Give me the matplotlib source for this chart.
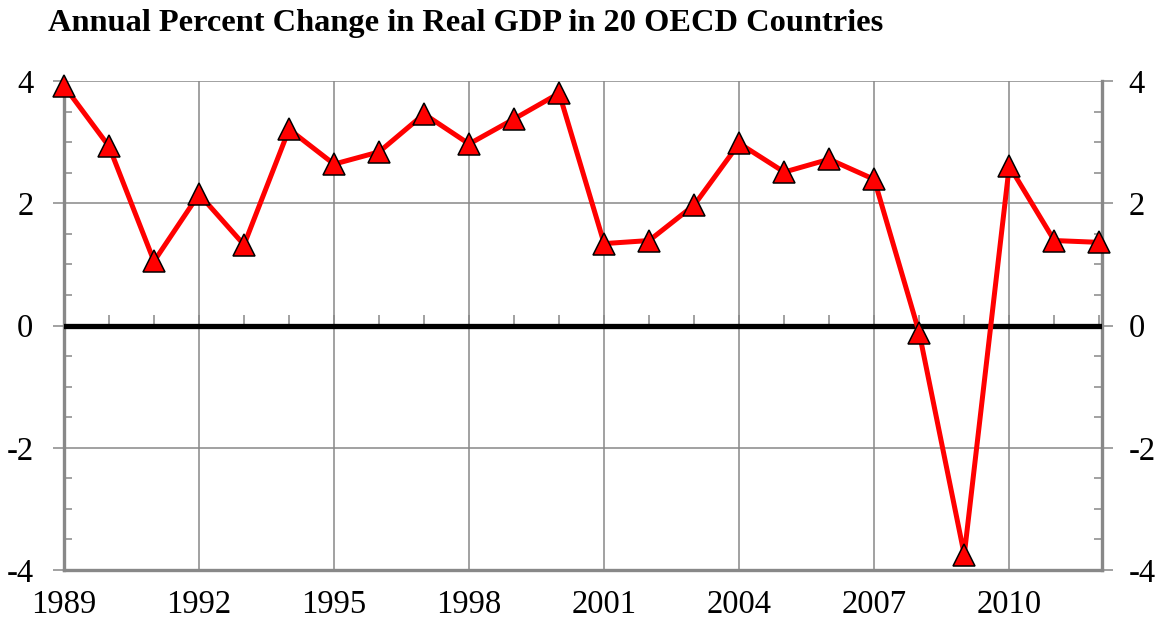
import numpy as np
import matplotlib
matplotlib.use("Agg")
import matplotlib.pyplot as plt
from matplotlib.ticker import MultipleLocator

# data
years = np.arange(1989, 2013)
gdp_change = [3.92, 2.93, 1.05, 2.15, 1.32, 3.21, 2.64, 2.84, 3.46, 2.97,
              3.38, 3.80, 1.34, 1.39, 1.97, 2.98, 2.51, 2.72, 2.39, -0.12,
              -3.75, 2.61, 1.39, 1.36]
year_labels = [1989, 1992, 1995, 1998, 2001, 2004, 2007, 2010]
y_ticks = [-4, -2, 0, 2, 4]
title = "Annual Percent Change in Real GDP in 20 OECD Countries"

grey = "#888888"
font = "Liberation Serif"
plt.rcParams["axes.unicode_minus"] = False

fig = plt.figure(figsize=(11.61, 6.25), dpi=100, facecolor="white")
ax = fig.add_axes([64/1161, 55/625, (1102-64)/1161, (570-81)/625])

ax.set_xlim(1989, 2012.06)
ax.set_ylim(-4, 4)

# grid
ax.set_xticks(year_labels)
ax.set_yticks(y_ticks)
ax.grid(True, color=grey, lw=1.1)
ax.yaxis.set_minor_locator(MultipleLocator(0.5))

for s in ["left", "bottom"]:
    ax.spines[s].set_color(grey)
    ax.spines[s].set_linewidth(2.4)
ax.spines["top"].set_visible(False)
ax.spines["right"].set_visible(False)

ax.tick_params(axis="x", which="major", length=0, pad=14,
               labelsize=23.5)
ax.tick_params(axis="y", which="major", direction="out", length=8, width=1.1,
               color=grey, labelsize=23.5, pad=14)
ax.tick_params(axis="y", which="minor", direction="in", length=6, width=1.1,
               color=grey)
for lab in ax.get_xticklabels() + ax.get_yticklabels():
    lab.set_fontfamily(font)

# right axis (kept beneath the data axes so markers sit on top of it)
ax2 = ax.twinx()
ax2.set_ylim(-4, 4)
ax2.set_yticks(y_ticks)
ax2.yaxis.set_minor_locator(MultipleLocator(0.5))
for s in ["left", "top", "bottom"]:
    ax2.spines[s].set_visible(False)
ax2.spines["right"].set_color(grey)
ax2.spines["right"].set_linewidth(2.4)
ax2.tick_params(axis="y", which="major", direction="out", length=8, width=1.1,
                color=grey, labelsize=23.5, pad=11)
ax2.tick_params(axis="y", which="minor", direction="in", length=6, width=1.1,
                color=grey)
for lab in ax2.get_yticklabels():
    lab.set_fontfamily(font)
ax2.set_zorder(ax.get_zorder() - 1)
ax.patch.set_visible(False)

# zero axis with yearly ticks
zero_ax = ax.secondary_xaxis(0.5)
zero_ax.set_xticks(years)
zero_ax.tick_params(axis="x", direction="out", length=7, width=1.1,
                    color=grey, labelbottom=False, labeltop=False)
for s in zero_ax.spines.values():
    s.set_visible(False)
ax.axhline(0, color="black", lw=3.8, zorder=3)

ax.plot(years, gdp_change, color="#ff0000", lw=3.6, marker="^", markersize=16,
        markerfacecolor="#ff0000", markeredgecolor="black",
        markeredgewidth=1.1, zorder=4, clip_on=False)

fig.text(48/1161, 1 - 23/625, title, fontfamily=font, fontweight="bold",
         fontsize=23.3, va="center", ha="left")

fig.savefig("out.png", dpi=100)
